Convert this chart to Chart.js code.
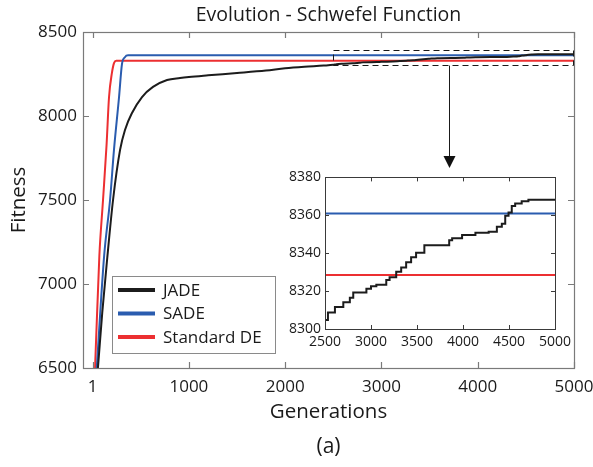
<!DOCTYPE html>
<html>
<head>
<meta charset="utf-8">
<script src="https://cdn.jsdelivr.net/npm/chart.js@4.4.1/dist/chart.umd.min.js"></script>
<style>
  html, body { margin: 0; padding: 0; background: #fff; }
  #wrap { position: relative; width: 593px; height: 467px; }
  #main { position: absolute; left: 0; top: 0; }
  #inset { position: absolute; left: 282px; top: 165px; }
</style>
</head>
<body>
<div id="wrap">
  <canvas id="main" width="593" height="467"></canvas>
  <canvas id="inset" width="300" height="190"></canvas>
</div>
<script>
// series (generation, fitness)
const jadeGen = [1, 55, 100, 150, 212, 285, 336, 409, 513, 627, 773, 908, 1000, 1200, 1500, 1800, 2000, 2200, 2400,
  2500, 2532, 2608, 2699, 2770, 2807, 2950, 3000, 3058, 3166, 3202, 3274, 3328, 3382, 3436, 3490, 3580, 3850,
  3882, 3990, 4135, 4279, 4368, 4422, 4459, 4495, 4530, 4567, 4638, 4711, 5000];
const jadeFit = [6130, 6500, 6830, 7143, 7500, 7798, 7917, 8018, 8113, 8173, 8214, 8226, 8232, 8242, 8256, 8271, 8284, 8293, 8300,
  8304.8, 8308.7, 8311.6, 8314.1, 8316.5, 8319.2, 8321.2, 8322.6, 8323.4, 8325.9, 8327.3, 8330.2, 8332.4, 8335.2, 8337.8, 8340.3, 8344.2, 8346.8,
  8347.9, 8349.6, 8350.8, 8351.3, 8353.9, 8355.5, 8359.8, 8361.5, 8364.9, 8366.2, 8367.4, 8368.2, 8368.2];

const sadeGen = [1, 43, 120, 181, 222, 274, 305, 335, 368, 5000];
const sadeFit = [6130, 6500, 7170, 7500, 7800, 8110, 8310, 8350, 8361, 8361];

const deGen = [1, 25, 70, 108, 145, 170, 200, 222, 245, 5000];
const deFit = [6200, 6500, 7170, 7500, 7830, 8110, 8255, 8315, 8328.5, 8328.5];

const seriesNames = ['JADE', 'SADE', 'Standard DE'];
const seriesColors = ['#1c1c1c', '#2a5caf', '#ec2f31'];

const xTickValues = [1, 1000, 2000, 3000, 4000, 5000];
const yTickStep = 500;

const insetXRange = [2500, 5000];
const insetYRange = [8300, 8380];
const zoomBoxGen = [2500, 5000];
const zoomBoxFit = [8300, 8390];
const arrowGen = 3700;
const arrowFit = [8300, 7690];

const titleText = 'Evolution - Schwefel Function';
const captionText = '(a)';
const FONT = "'Open Sans', 'Noto Sans', sans-serif";

function pts(xs, ys) {
  return xs.map((x, i) => ({ x: x, y: ys[i] }));
}

// box around the plot area plus inward ticks on all four sides
const framePlugin = {
  id: 'frame',
  beforeDraw(chart, args, opts) {
    if (!opts.fill) return;
    const a = chart.chartArea;
    chart.ctx.save();
    chart.ctx.fillStyle = opts.fill;
    chart.ctx.fillRect(a.left, a.top, a.right - a.left, a.bottom - a.top);
    chart.ctx.restore();
  },
  afterDatasetsDraw(chart, args, opts) {
    const { ctx, chartArea: a, scales } = chart;
    ctx.save();
    ctx.strokeStyle = opts.color;
    ctx.lineWidth = opts.width;
    ctx.beginPath();
    scales.x.ticks.forEach(t => {
      const px = Math.round(scales.x.getPixelForValue(t.value)) + 0.5;
      ctx.moveTo(px, a.bottom); ctx.lineTo(px, a.bottom - opts.len);
      ctx.moveTo(px, a.top); ctx.lineTo(px, a.top + opts.len);
    });
    scales.y.ticks.forEach(t => {
      const py = Math.round(scales.y.getPixelForValue(t.value)) + 0.5;
      ctx.moveTo(a.left, py); ctx.lineTo(a.left + opts.len, py);
      ctx.moveTo(a.right, py); ctx.lineTo(a.right - opts.len, py);
    });
    ctx.stroke();
    ctx.strokeRect(Math.round(a.left) + 0.5, Math.round(a.top) + 0.5,
      Math.round(a.right - a.left), Math.round(a.bottom - a.top));
    ctx.restore();
  }
};

// title, caption, zoom box, arrow and legend for the main chart
const decoPlugin = {
  id: 'deco',
  afterDraw(chart) {
    const { ctx, chartArea: a, scales: { x, y } } = chart;
    const cx = (a.left + a.right) / 2;
    ctx.save();
    ctx.fillStyle = '#1a1a1a';
    ctx.textAlign = 'center';
    ctx.textBaseline = 'middle';
    ctx.font = '19.5px ' + FONT;
    ctx.fillText(titleText, cx, 15);
    ctx.font = '21px ' + FONT;
    ctx.fillText(captionText, cx, 447);

    // dashed zoom box
    const bx0 = x.getPixelForValue(zoomBoxGen[0]);
    const bx1 = x.getPixelForValue(zoomBoxGen[1]);
    const by0 = y.getPixelForValue(zoomBoxFit[1]);
    const by1 = y.getPixelForValue(zoomBoxFit[0]);
    ctx.strokeStyle = '#1a1a1a';
    ctx.lineWidth = 1;
    ctx.setLineDash([6, 4]);
    ctx.strokeRect(Math.round(bx0) + 0.5, Math.round(by0) + 0.5, Math.round(bx1 - bx0) - 1, Math.round(by1 - by0));
    ctx.setLineDash([]);

    // arrow down to the inset
    const ax = Math.round(x.getPixelForValue(arrowGen)) + 0.5;
    const ay0 = y.getPixelForValue(arrowFit[0]);
    const ay1 = y.getPixelForValue(arrowFit[1]);
    ctx.beginPath();
    ctx.moveTo(ax, ay0);
    ctx.lineTo(ax, ay1 - 10);
    ctx.stroke();
    ctx.fillStyle = '#111';
    ctx.beginPath();
    ctx.moveTo(ax - 6, ay1 - 12);
    ctx.lineTo(ax + 6, ay1 - 12);
    ctx.lineTo(ax, ay1);
    ctx.closePath();
    ctx.fill();

    // legend
    const lx = a.left + 29, ly = a.top + 244, lw = 163, lh = 77;
    ctx.fillStyle = '#fff';
    ctx.fillRect(lx, ly, lw, lh);
    ctx.strokeStyle = '#8a8a8a';
    ctx.lineWidth = 1;
    ctx.strokeRect(lx + 0.5, ly + 0.5, lw, lh);
    ctx.textAlign = 'left';
    ctx.font = '17px ' + FONT;
    chart.data.datasets.forEach((ds, i) => {
      const rowY = ly + 14 + i * 23.5;
      ctx.strokeStyle = ds.borderColor;
      ctx.lineWidth = 4;
      ctx.beginPath();
      ctx.moveTo(lx + 6, rowY);
      ctx.lineTo(lx + 43, rowY);
      ctx.stroke();
      ctx.fillStyle = '#1a1a1a';
      ctx.fillText(ds.label, lx + 51, rowY + 1);
    });
    ctx.restore();
  }
};

function makeDatasets(stepJade) {
  const gens = [jadeGen, sadeGen, deGen];
  const fits = [jadeFit, sadeFit, deFit];
  return seriesNames.map((name, i) => ({
    label: name,
    data: pts(gens[i], fits[i]),
    borderColor: seriesColors[i],
    backgroundColor: seriesColors[i],
    borderWidth: 2,
    pointRadius: 0,
    fill: false,
    stepped: stepJade && i === 0 ? 'before' : false,
    cubicInterpolationMode: stepJade ? 'default' : 'monotone'
  }));
}

new Chart(document.getElementById('main'), {
  type: 'line',
  data: { datasets: makeDatasets(false) },
  plugins: [framePlugin, decoPlugin],
  options: {
    responsive: false,
    animation: false,
    events: [],
    layout: { padding: { top: 32, right: 19, bottom: 39, left: 0 } },
    plugins: {
      legend: { display: false },
      tooltip: { enabled: false },
      frame: { color: '#7a7a7a', width: 1.2, len: 6 }
    },
    scales: {
      x: {
        type: 'linear',
        min: -100,
        max: 5000,
        afterBuildTicks: s => { s.ticks = xTickValues.map(v => ({ value: v })); },
        afterFit: s => { s.height = 60; s.paddingLeft = 0; s.paddingRight = 0; },
        grid: { display: false, drawTicks: false },
        border: { display: false },
        ticks: {
          autoSkip: false, maxRotation: 0, padding: 9, color: '#1a1a1a',
          font: { family: FONT, size: 17 },
          callback: v => String(v)
        },
        title: {
          display: true, text: 'Generations', color: '#1a1a1a',
          font: { family: FONT, size: 20.5 }, padding: { top: 0, bottom: 4 }
        }
      },
      y: {
        min: 6500,
        max: 8500,
        afterFit: s => { s.width = 83; s.paddingTop = 0; s.paddingBottom = 0; },
        grid: { display: false, drawTicks: false },
        border: { display: false },
        ticks: {
          stepSize: yTickStep, padding: 6, color: '#1a1a1a',
          font: { family: FONT, size: 17 },
          callback: v => String(v)
        },
        title: {
          display: true, text: 'Fitness', color: '#1a1a1a',
          font: { family: FONT, size: 20.5 }, padding: { top: 7, bottom: 0 }
        }
      }
    }
  }
});

new Chart(document.getElementById('inset'), {
  type: 'line',
  data: { datasets: makeDatasets(true) },
  plugins: [framePlugin],
  options: {
    responsive: false,
    animation: false,
    events: [],
    layout: { padding: { top: 9, right: 27, bottom: 0, left: 0 } },
    plugins: {
      legend: { display: false },
      tooltip: { enabled: false },
      frame: { color: '#3a3a3a', width: 1, len: 4, fill: '#fff' }
    },
    scales: {
      x: {
        type: 'linear',
        min: insetXRange[0],
        max: insetXRange[1],
        afterFit: s => { s.height = 26; },
        grid: { display: false, drawTicks: false },
        border: { display: false },
        ticks: {
          stepSize: 500, autoSkip: false, maxRotation: 0, padding: 5, color: '#1a1a1a',
          font: { family: FONT, size: 14 },
          callback: v => String(v)
        }
      },
      y: {
        min: insetYRange[0],
        max: insetYRange[1],
        afterFit: s => { s.width = 43; },
        grid: { display: false, drawTicks: false },
        border: { display: false },
        ticks: {
          stepSize: 20, padding: 4, color: '#1a1a1a',
          font: { family: FONT, size: 14 },
          callback: v => String(v)
        }
      }
    }
  }
});
</script>
</body>
</html>
